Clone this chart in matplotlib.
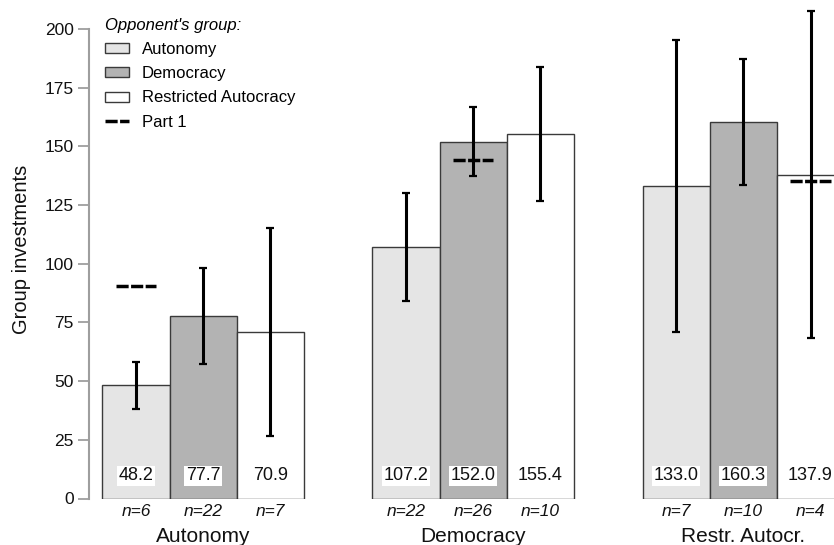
import numpy as np
import matplotlib.pyplot as plt
from matplotlib.patches import Patch
from matplotlib.lines import Line2D
from matplotlib.transforms import blended_transform_factory

plt.rcParams['font.family'] = ['Liberation Sans', 'DejaVu Sans']

groups = ['Autonomy', 'Democracy', 'Restr. Autocr.']
opponents = ['Autonomy', 'Democracy', 'Restricted Autocracy']
means = [[48.2, 77.7, 70.9],
         [107.2, 152.0, 155.4],
         [133.0, 160.3, 137.9]]
errors = [[10.1, 20.3, 44.2],
          [23.0, 14.8, 28.5],
          [62.2, 26.8, 69.7]]
counts = [[6, 22, 7],
          [22, 26, 10],
          [7, 10, 4]]
part1 = [90.7, 144.4, 135.4]

colors = ['#e5e5e5', '#b3b3b3', '#ffffff']
edge = '#3a3a3a'
spine_gray = '#9e9e9e'

fig = plt.figure(figsize=(8.34, 5.45), dpi=100)
ax = fig.add_axes([89 / 834, 46.5 / 545, 745 / 834, 498.5 / 545])

spacing = 4.02
centers = np.arange(len(groups)) * spacing
tick_pos, tick_lab = [], []
for g, c in enumerate(centers):
    for k in range(3):
        x = c + (k - 1)
        ax.bar(x, means[g][k], width=1.0, color=colors[k], edgecolor=edge,
               linewidth=1.0, zorder=2)
        ax.errorbar(x, means[g][k], yerr=errors[g][k], fmt='none',
                    ecolor='black', elinewidth=2.2, capsize=3.0,
                    capthick=1.6, zorder=3)
        bbox = None if k == 2 else dict(facecolor='white', edgecolor='none', pad=1.0)
        ax.text(x, 9.7, f'{means[g][k]:.1f}', ha='center', va='center',
                fontsize=13, color='#111111', bbox=bbox, zorder=4)
        tick_pos.append(x)
        tick_lab.append(f'n={counts[g][k]}')
    xp = c + 1 if g == 2 else c - 1 if g == 0 else c
    ax.hlines(part1[g], xp - 0.3, xp + 0.3, colors='black', linewidth=2.5,
              linestyles=(0, (3.5, 0.7)), zorder=5)

ax.set_xlim(-1.698, 9.389)
ax.set_ylim(0, 212.4)
ax.set_yticks([0, 25, 50, 75, 100, 125, 150, 175, 200])
ax.set_xticks(tick_pos)
ax.set_xticklabels(tick_lab, fontstyle='italic', fontsize=12.5, color='#111111')
ax.tick_params(axis='x', length=0, pad=4)
ax.tick_params(axis='y', length=8, width=1.3, color=spine_gray, labelsize=12.5,
               labelcolor='#111111', pad=3)

for s in ['top', 'right', 'bottom']:
    ax.spines[s].set_visible(False)
ax.spines['left'].set_color(spine_gray)
ax.spines['left'].set_linewidth(1.5)
ax.spines['left'].set_bounds(0, 200)

trans = blended_transform_factory(ax.transData, ax.transAxes)
for c, name in zip(centers, groups):
    ax.annotate(name, xy=(c, 0), xycoords=trans, xytext=(0, -27),
                textcoords='offset points', ha='center', va='center',
                fontsize=15, color='#111111', annotation_clip=False)

ax.set_ylabel('Group investments', fontsize=14.5, color='#111111', labelpad=10)

handles = [Patch(facecolor=colors[k], edgecolor=edge, linewidth=1.0)
           for k in range(3)]
handles.append(Line2D([], [], color='black', linewidth=2.5,
                      linestyle=(0, (3.5, 0.7))))
leg = ax.legend(handles, opponents + ['Part 1'], title="Opponent's group:",
                loc='upper left', bbox_to_anchor=(11 / 745, 0.974), frameon=False,
                fontsize=12, handlelength=1.45, handleheight=0.55,
                handletextpad=0.75, labelspacing=0.55, borderaxespad=0.3,
                borderpad=0.0, alignment='left',
                title_fontproperties={'style': 'italic', 'size': 12})

fig.savefig('out.png', dpi=100)
